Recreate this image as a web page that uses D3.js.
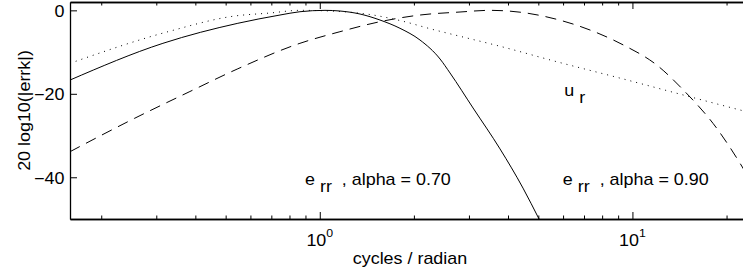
<!DOCTYPE html>
<html>
<head>
<meta charset="utf-8">
<script src="https://cdn.jsdelivr.net/npm/d3@7"></script>
<style>
  body { margin: 0; background: #fff; }
  svg { display: block; font-family: "Liberation Sans", Arial, sans-serif; }
  text { white-space: pre; fill: #000; }
</style>
</head>
<body>
<div id="chart"></div>
<script>
// error of the alpha = 0.70 filter (solid)
const alpha70Freq = [0.1589, 0.315, 0.547, 0.746, 0.864, 1.039, 1.16, 1.345, 1.558, 1.805, 2.092, 2.425, 2.609, 3.092, 3.771, 4.467, 5.026];
const alpha70Db   = [-16.7, -7.9, -3.1, -1.12, -0.33, 0.0, -0.16, -0.88, -2.32, -4.3, -7.11, -11.66, -15.0, -23.4, -33.2, -42.6, -50];

// error of the alpha = 0.90 filter (dashed)
const alpha90Freq = [0.1589, 0.2557, 0.3843, 0.547, 0.864, 1.16, 1.558, 2.092, 2.809, 3.503, 4.369, 5.726, 7.316, 9.352, 11.96, 14.55, 18.61, 22.09, 23.78];
const alpha90Db   = [-33.87, -25.87, -19.45, -14.0, -7.9, -5.12, -2.72, -1.12, -0.4, 0.0, -0.44, -2.15, -4.71, -8.3, -13.1, -19.09, -28.27, -36.65, -40.65];

// u_r (dotted)
const urFreq = [0.1589, 0.3268, 0.5341, 0.693, 0.864, 1.16, 1.447, 1.805, 2.302, 2.958, 3.689, 5.726, 9.352, 14.55, 22.09, 23.78];
const urDb   = [-12.69, -5.12, -1.36, -0.64, 0.0, -0.28, -1.0, -2.44, -4.59, -6.63, -8.42, -12.31, -16.45, -20.29, -23.88, -24.5];

// axis limits and ticks
const freqLimits = [0.1589, 23.77];
const dbLimits = [-50, 2];
const majorFreqTicks = [1, 10];
const minorFreqTicks = [0.2, 0.3, 0.4, 0.5, 0.6, 0.7, 0.8, 0.9, 2, 3, 4, 5, 6, 7, 8, 9, 20];
const dbTicks = [0, -20, -40];

// annotations: main letter, subscript, rest, anchor in data units
const noteMain = ["e", "e", "u"];
const noteSub  = ["rr", "rr", "r"];
const noteTail = ["  , alpha = 0.70", "  , alpha = 0.90", ""];
const noteFreq = [0.897, 5.99, 6.05];
const noteDb   = [-41.85, -41.85, -20.5];

const width = 743, height = 276;
const plotLeft = 70, plotRight = 750, plotTop = 2, plotBottom = 219;
const stretch = 1.12;  // glyphs are a bit wide in the original

const svg = d3.select("#chart").append("svg")
    .attr("width", width)
    .attr("height", height);

const x = d3.scaleLog().domain(freqLimits).range([plotLeft, plotRight]);
const y = d3.scaleLinear().domain(dbLimits).range([plotBottom, plotTop]);

svg.append("clipPath").attr("id", "plotclip")
  .append("rect")
    .attr("x", plotLeft).attr("y", plotTop)
    .attr("width", plotRight - plotLeft).attr("height", plotBottom - plotTop);

const line = d3.line()
    .x(d => x(d[0]))
    .y(d => y(d[1]))
    .curve(d3.curveMonotoneX);

const series = [
  {f: alpha70Freq, v: alpha70Db, dash: null},
  {f: alpha90Freq, v: alpha90Db, dash: "11,7"},
  {f: urFreq, v: urDb, dash: "1,5"}
];

svg.append("g").attr("clip-path", "url(#plotclip)")
  .selectAll("path")
  .data(series)
  .enter()
  .append("path")
    .attr("d", s => line(d3.zip(s.f, s.v)))
    .attr("fill", "none")
    .attr("stroke", "#000")
    .attr("stroke-width", 1)
    .attr("stroke-dasharray", s => s.dash);

// axes, ticks pointing into the plot
function styleAxis(g) {
  g.selectAll("path.domain").attr("stroke", "#000").attr("stroke-width", 1.3);
  g.selectAll(".tick line").attr("stroke", "#000");
}

svg.append("g").attr("transform", `translate(0,${plotBottom})`)
    .call(d3.axisBottom(x).tickValues(majorFreqTicks).tickSizeInner(-7).tickSizeOuter(0).tickFormat(""))
    .call(styleAxis);
svg.append("g").attr("transform", `translate(0,${plotBottom})`)
    .call(d3.axisBottom(x).tickValues(minorFreqTicks).tickSizeInner(-3.5).tickSizeOuter(0).tickFormat(""))
    .call(styleAxis);
svg.append("g").attr("transform", `translate(0,${plotTop})`)
    .call(d3.axisTop(x).tickValues(majorFreqTicks).tickSizeInner(-7).tickSizeOuter(0).tickFormat(""))
    .call(styleAxis);
svg.append("g").attr("transform", `translate(0,${plotTop})`)
    .call(d3.axisTop(x).tickValues(minorFreqTicks).tickSizeInner(-3.5).tickSizeOuter(0).tickFormat(""))
    .call(styleAxis);

let yAxis = svg.append("g").attr("transform", `translate(${plotLeft},0)`)
    .call(d3.axisLeft(y).tickValues(dbTicks).tickSizeInner(-7).tickSizeOuter(0).tickPadding(5))
    .call(styleAxis);
yAxis.selectAll(".tick text")
    .attr("font-size", 16)
    .attr("font-family", "Liberation Sans, Arial, sans-serif")
    .attr("fill", "#000")
    .attr("dy", "0.36em")
    .attr("transform", `scale(${stretch},1)`);

// helper for text stretched along its baseline
function label(px, py, rot) {
  return svg.append("g")
      .attr("transform", `translate(${px},${py}) rotate(${rot}) scale(${stretch},1)`)
    .append("text")
      .attr("font-size", 16);
}

// decade labels 10^n
majorFreqTicks.forEach(f => {
  let t = label(x(f), 245.5, 0).attr("text-anchor", "middle");
  t.append("tspan").text("10");
  t.append("tspan").attr("dy", -8.5).attr("font-size", 11).text(Math.round(Math.log10(f)));
});

label((plotLeft + plotRight) / 2, 264, 0).attr("text-anchor", "middle").text("cycles / radian");
label(29.5, (plotTop + plotBottom) / 2, -90).attr("text-anchor", "middle").text("20 log10(|errk|)");

noteMain.forEach((m, i) => {
  let t = label(x(noteFreq[i]), y(noteDb[i]), 0);
  t.append("tspan").text(m + " ");
  t.append("tspan").attr("dy", 7).text(noteSub[i]);
  t.append("tspan").attr("dy", -7).text(noteTail[i]);
});
</script>
</body>
</html>
